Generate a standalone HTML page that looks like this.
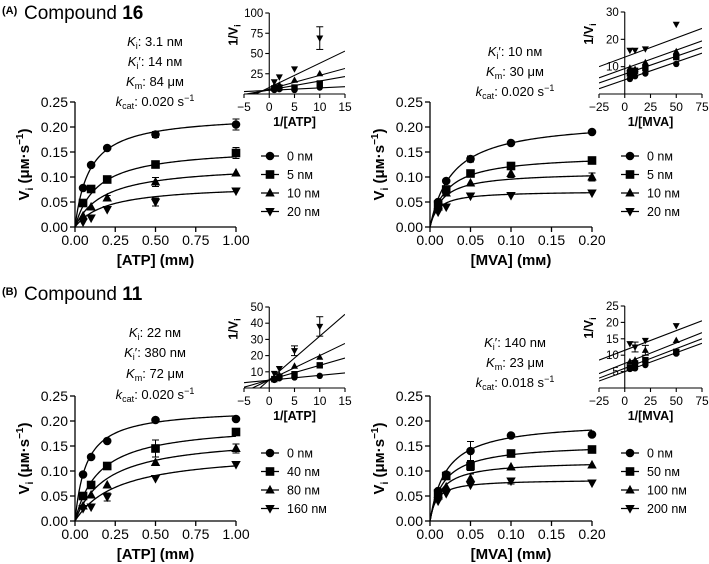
<!DOCTYPE html>
<html><head><meta charset="utf-8">
<style>
html,body{margin:0;padding:0;background:#fff;}
svg{display:block;font-family:"Liberation Sans",Arial,sans-serif;}
</style></head>
<body>
<svg id="fig" width="709" height="564" viewBox="0 0 709 564" xmlns="http://www.w3.org/2000/svg">
<g>
<text x="2" y="14" font-size="11" font-weight="bold">(A)</text>
<text x="24" y="19" font-size="19">Compound <tspan font-weight="bold">16</tspan></text>
</g>
<g>
<text x="2" y="295" font-size="11" font-weight="bold">(B)</text>
<text x="24" y="300" font-size="19">Compound <tspan font-weight="bold">11</tspan></text>
</g>
<g font-size="13" text-anchor="middle">
<text x="155" y="46"><tspan font-style="italic">K</tspan><tspan font-size="9" dy="3">i</tspan><tspan dy="-3">: 3.1 nм</tspan></text>
<text x="155" y="66"><tspan font-style="italic">K</tspan><tspan font-size="9" dy="3">i</tspan><tspan dy="-3">′: 14 nм</tspan></text>
<text x="155" y="86"><tspan font-style="italic">K</tspan><tspan font-size="9" dy="3">m</tspan><tspan dy="-3">: 84 μм</tspan></text>
<text x="155" y="106"><tspan font-style="italic">k</tspan><tspan font-size="9" dy="3">cat</tspan><tspan dy="-3">: 0.020 s</tspan><tspan font-size="9" dy="-5">−1</tspan></text>
</g>
<g font-size="13" text-anchor="middle">
<text x="515" y="56"><tspan font-style="italic">K</tspan><tspan font-size="9" dy="3">i</tspan><tspan dy="-3">′: 10 nм</tspan></text>
<text x="515" y="76"><tspan font-style="italic">K</tspan><tspan font-size="9" dy="3">m</tspan><tspan dy="-3">: 30 μм</tspan></text>
<text x="515" y="96"><tspan font-style="italic">k</tspan><tspan font-size="9" dy="3">cat</tspan><tspan dy="-3">: 0.020 s</tspan><tspan font-size="9" dy="-5">−1</tspan></text>
</g>
<g font-size="13" text-anchor="middle">
<text x="155" y="337"><tspan font-style="italic">K</tspan><tspan font-size="9" dy="3">i</tspan><tspan dy="-3">: 22 nм</tspan></text>
<text x="155" y="357"><tspan font-style="italic">K</tspan><tspan font-size="9" dy="3">i</tspan><tspan dy="-3">′: 380 nм</tspan></text>
<text x="155" y="378"><tspan font-style="italic">K</tspan><tspan font-size="9" dy="3">m</tspan><tspan dy="-3">: 72 μм</tspan></text>
<text x="155" y="399"><tspan font-style="italic">k</tspan><tspan font-size="9" dy="3">cat</tspan><tspan dy="-3">: 0.020 s</tspan><tspan font-size="9" dy="-5">−1</tspan></text>
</g>
<g font-size="13" text-anchor="middle">
<text x="515" y="347"><tspan font-style="italic">K</tspan><tspan font-size="9" dy="3">i</tspan><tspan dy="-3">′: 140 nм</tspan></text>
<text x="515" y="367"><tspan font-style="italic">K</tspan><tspan font-size="9" dy="3">m</tspan><tspan dy="-3">: 23 μм</tspan></text>
<text x="515" y="387"><tspan font-style="italic">k</tspan><tspan font-size="9" dy="3">cat</tspan><tspan dy="-3">: 0.018 s</tspan><tspan font-size="9" dy="-5">−1</tspan></text>
</g>
</svg>
<script>
// ---------- data ----------
const atpConc = [0.05, 0.1, 0.2, 0.5, 1.0];
const mvaConc = [0.01, 0.02, 0.05, 0.1, 0.2];
const mainYTicks = [0, 0.05, 0.1, 0.15, 0.2, 0.25];
const mainYLabels = ["0.00","0.05","0.10","0.15","0.20","0.25"];
const atpXTicks = [0, 0.25, 0.5, 0.75, 1.0];
const atpXLabels = ["0.00","0.25","0.50","0.75","1.00"];
const mvaXTicks = [0, 0.05, 0.1, 0.15, 0.2];
const mvaXLabels = ["0.00","0.05","0.10","0.15","0.20"];

const aAtpLegend = ["0 nм","5 nм","10 nм","20 nм"];
const aAtpV = [[0.078,0.124,0.158,0.185,0.205],[0.048,0.076,0.095,0.125,0.148],[0.022,0.040,0.058,0.090,0.108],[0.010,0.018,0.035,0.050,0.072]];
const aAtpErr = [[0,0,0,0.006,0.011],[0,0,0,0,0.011],[0,0,0.005,0.009,0],[0,0,0,0.008,0]];
const aAtpVmax = [0.225,0.160,0.125,0.085];
const aAtpKm = [0.09,0.14,0.18,0.2];

const aMvaLegend = ["0 nм","5 nм","10 nм","20 nм"];
const aMvaV = [[0.050,0.092,0.136,0.168,0.190],[0.045,0.075,0.107,0.122,0.133],[0.040,0.068,0.088,0.107,0.100],[0.030,0.040,0.062,0.063,0.068]];
const aMvaErr = [[0,0,0.006,0,0],[0,0,0,0,0],[0.006,0,0,0.008,0.008],[0,0,0,0,0]];
const aMvaVmax = [0.215,0.145,0.110,0.072];
const aMvaKm = [0.028,0.020,0.015,0.010];

const bAtpLegend = ["0 nм","40 nм","80 nм","160 nм"];
const bAtpV = [[0.093,0.128,0.160,0.202,0.204],[0.050,0.072,0.110,0.145,0.178],[0.030,0.052,0.072,0.117,0.145],[0.025,0.028,0.048,0.085,0.113]];
const bAtpErr = [[0,0,0,0,0],[0,0,0,0.017,0],[0,0,0,0,0.009],[0,0,0.008,0,0]];
const bAtpVmax = [0.225,0.195,0.170,0.140];
const bAtpKm = [0.07,0.15,0.2,0.27];

const bMvaLegend = ["0 nм","50 nм","100 nм","200 nм"];
const bMvaV = [[0.060,0.093,0.140,0.171,0.173],[0.055,0.090,0.110,0.135,0.143],[0.050,0.068,0.085,0.108,0.112],[0.040,0.055,0.072,0.080,0.076]];
const bMvaErr = [[0,0,0.019,0,0],[0,0,0.009,0,0],[0.008,0,0.009,0,0],[0,0,0,0.006,0]];
const bMvaVmax = [0.200,0.155,0.120,0.083];
const bMvaKm = [0.020,0.017,0.013,0.008];

// insets (double reciprocal)
const aAtpInvX = [1,2,5,10];
const aAtpInvY = [[5,6,5,8],[7,8,8,13],[10,11,17,25],[15,21,31,69]];
const aAtpInvErr = [[0,0,0,0],[0,0,0,0],[0,0,0,0],[0,0,0,14]];
const aAtpSlope = [0.3,1.1,1.7,3.0];
const aAtpInt = [4.5,5,6,8];
const aAtpInvYTicks = [25,50,75,100];
const atpInvXTicks = [-5,0,5,10,15];

const aMvaInvX = [5,10,20,50];
const aMvaInvY = [[5.5,6.5,7.5,11],[7.5,8.5,9.5,13.5],[9.5,9,11.5,15.5],[16,16,16.5,25.5]];
const aMvaInvErr = [[0,0,0,0],[0,0,0,0],[0,0,0,0],[0,0,0,0]];
const aMvaSlope = [0.13,0.13,0.135,0.14];
const aMvaInt = [5.2,7.3,9.3,13.5];
const aMvaInvYTicks = [10,20,30];
const mvaInvXTicks = [-25,0,25,50,75];

const bAtpInvX = [1,2,5,10];
const bAtpInvY = [[5,6,6.5,7.5],[5.5,7,8.5,14],[6.5,8,13.5,19],[9,12,23,38]];
const bAtpInvErr = [[0,0,0,0],[0,0,0,0],[0,0,0,0],[0,0,3,6]];
const bAtpSlope = [0.3,0.9,1.5,2.7];
const bAtpInt = [4.8,5,5,5];
const bAtpInvYTicks = [10,20,30,40,50];

const bMvaInvX = [5,10,20,50];
const bMvaInvY = [[5.8,6,7,10.5],[6.2,7.5,8.5,11],[8,8.5,11.5,14.5],[13.5,12.5,14.5,19]];
const bMvaInvErr = [[0,0,0,0],[0,0,0,0],[0,0,1.5,0],[0,1.5,0,0]];
const bMvaSlope = [0.115,0.12,0.125,0.12];
const bMvaInt = [5,6,7.5,11.5];
const bMvaInvYTicks = [5,10,15,20,25];

// ---------- drawing ----------
const NS = "http://www.w3.org/2000/svg";
const svg = document.getElementById("fig");
function el(tag, attrs, parent){
  const e = document.createElementNS(NS, tag);
  for (const k in attrs) e.setAttribute(k, attrs[k]);
  (parent||svg).appendChild(e);
  return e;
}
function marker(g, shape, x, y, r){
  let m;
  if (shape===0) m = el("circle",{cx:x,cy:y,r:r,fill:"#000"},g);
  else if (shape===1) m = el("rect",{x:x-r,y:y-r,width:2*r,height:2*r,fill:"#000"},g);
  else if (shape===2) m = el("polygon",{points:`${x},${y-r*1.2} ${x-r*1.1},${y+r*0.8} ${x+r*1.1},${y+r*0.8}`,fill:"#000"},g);
  else m = el("polygon",{points:`${x},${y+r*1.2} ${x-r*1.1},${y-r*0.8} ${x+r*1.1},${y-r*0.8}`,fill:"#000"},g);
  return m;
}
function errbar(g, x, y1, y2){
  el("line",{x1:x,y1:y1,x2:x,y2:y2,stroke:"#000","stroke-width":1},g);
  el("line",{x1:x-3.5,y1:y1,x2:x+3.5,y2:y1,stroke:"#000","stroke-width":1},g);
  el("line",{x1:x-3.5,y1:y2,x2:x+3.5,y2:y2,stroke:"#000","stroke-width":1},g);
}

function mainPanel(name, ax, conc, V, Err, Vmax, Km, xTicks, xLabels, xTitle, legend, legX, legY){
  const g = el("g",{});
  
  
  const sx = v => ax.px0 + (v-ax.xmin)/(ax.xmax-ax.xmin)*(ax.px1-ax.px0);
  const sy = v => ax.py0 - (v-0)/(0.25)*(ax.py0-ax.py1);
  const axg = el("g",{},g);
  
  
  el("line",{x1:ax.px0,y1:ax.py1,x2:ax.px0,y2:ax.py0,stroke:"#000","stroke-width":1.3},axg);
  mainYTicks.forEach((t,i)=>{
    const y = sy(t);
    el("line",{x1:ax.px0-5,y1:y,x2:ax.px0,y2:y,stroke:"#000","stroke-width":1.3},axg);
    const tx = el("text",{x:ax.px0-7,y:y+5,"font-size":14,"text-anchor":"end"},axg);
    tx.textContent = mainYLabels[i];
  });
  const xg = el("g",{},g);
  
  
  el("line",{x1:ax.px0,y1:ax.py0,x2:ax.px1,y2:ax.py0,stroke:"#000","stroke-width":1.3},xg);
  xTicks.forEach((t,i)=>{
    const x = sx(t);
    el("line",{x1:x,y1:ax.py0,x2:x,y2:ax.py0+5,stroke:"#000","stroke-width":1.3},xg);
    const tx = el("text",{x:x,y:ax.py0+18,"font-size":14,"text-anchor":"middle"},xg);
    tx.textContent = xLabels[i];
  });
  const xt = el("text",{x:(ax.px0+ax.px1)/2,y:ax.py0+38,"font-size":15,"font-weight":"bold","text-anchor":"middle"},g);
  
  
  xt.textContent = xTitle;
  const cy = (ax.py0+ax.py1)/2;
  const yt = el("text",{x:0,y:0,"font-size":15,"font-weight":"bold","text-anchor":"middle",transform:`translate(${ax.px0-46},${cy}) rotate(-90)`},g);
  
  
  yt.innerHTML = 'V<tspan font-size="10" dy="4">i</tspan><tspan dy="-4"> (μм·s</tspan><tspan font-size="10" dy="-6">−1</tspan><tspan dy="6">)</tspan>';
  V.forEach((row,s)=>{
    const sg = el("g",{},g);
    
    
    let d = "";
    for (let k=0;k<=120;k++){
      const x = ax.xmin + (ax.xmax-ax.xmin)*k/120;
      const v = Vmax[s]*x/(Km[s]+x);
      d += (k?"L":"M")+sx(x).toFixed(2)+","+sy(v).toFixed(2);
    }
    const p = el("path",{d:d,fill:"none",stroke:"#000","stroke-width":1.3},sg);
    
    
    row.forEach((v,i)=>{
      const e = Err[s][i];
      if (e>0) errbar(sg, sx(conc[i]), sy(v+e), sy(v-e));
      const m = marker(sg, s, sx(conc[i]), sy(v), 4.3);
      
      
    });
  });
  legend.forEach((lab,s)=>{
    const lg = el("g",{},g);
    
    
    const y = legY + s*18.5;
    el("line",{x1:legX-9,y1:y,x2:legX+9,y2:y,stroke:"#000","stroke-width":1.3},lg);
    marker(lg, s, legX, y, 4.3);
    const t = el("text",{x:legX+17,y:y+4.5,"font-size":12.5},lg);
    t.textContent = lab;
  });
}

let clipId = 0;
function inset(name, ax, invX, invY, invErr, slope, intercept, yTicks, xTicks, xTitle){
  const g = el("g",{});
  
  
  const sx = v => ax.px0 + (v-ax.xmin)/(ax.xmax-ax.xmin)*(ax.px1-ax.px0);
  const sy = v => ax.py0 - (v-ax.ymin)/(ax.ymax-ax.ymin)*(ax.py0-ax.py1);
  const x0 = sx(0);
  el("line",{x1:x0,y1:ax.py1,x2:x0,y2:ax.py0,stroke:"#000","stroke-width":1.1},g);
  yTicks.forEach(t=>{
    const y = sy(t);
    el("line",{x1:x0-4,y1:y,x2:x0,y2:y,stroke:"#000","stroke-width":1.1},g);
    const tx = el("text",{x:x0-6,y:y+4,"font-size":11.5,"text-anchor":"end"},g);
    tx.textContent = t;
  });
  el("line",{x1:ax.px0,y1:ax.py0,x2:ax.px1,y2:ax.py0,stroke:"#000","stroke-width":1.1},g);
  xTicks.forEach(t=>{
    const x = sx(t);
    el("line",{x1:x,y1:ax.py0,x2:x,y2:ax.py0+4,stroke:"#000","stroke-width":1.1},g);
    const tx = el("text",{x:x,y:ax.py0+17,"font-size":12,"text-anchor":"middle"},g);
    tx.textContent = (t<0?"−"+(-t):t);
  });
  const xt = el("text",{x:(ax.px0+ax.px1)/2,y:ax.py0+32,"font-size":12.5,"font-weight":"bold","text-anchor":"middle"},g);
  
  
  xt.textContent = xTitle;
  const yt = el("text",{x:0,y:0,"font-size":12.5,"font-weight":"bold","text-anchor":"middle",transform:`translate(${x0-32},${ax.py1+22}) rotate(-90)`},g);
  
  
  yt.innerHTML = '1/V<tspan font-size="9" dy="3">i</tspan>';
  const cid = "clip"+(clipId++);
  const cp = el("clipPath",{id:cid},g);
  el("rect",{x:ax.px0,y:ax.py1-10,width:ax.px1-ax.px0,height:ax.py0-ax.py1+10},cp);
  invY.forEach((row,s)=>{
    const sg = el("g",{},g);
    
    
    const l = el("line",{x1:sx(ax.xmin),y1:sy(intercept[s]+slope[s]*ax.xmin),x2:sx(ax.xmax),y2:sy(intercept[s]+slope[s]*ax.xmax),stroke:"#000","stroke-width":1.1,"clip-path":`url(#${cid})`},sg);
    
    
    row.forEach((v,i)=>{
      const e = invErr[s][i];
      if (e>0) errbar(sg, sx(invX[i]), sy(v+e), sy(v-e));
      const m = marker(sg, s, sx(invX[i]), sy(v), 3.2);
      
      
    });
  });
}

mainPanel("chart-a-atp",{px0:75,px1:236,xmin:0,xmax:1,py0:227,py1:102},atpConc,aAtpV,aAtpErr,aAtpVmax,aAtpKm,atpXTicks,atpXLabels,"[ATP] (mм)",aAtpLegend,270,156);
mainPanel("chart-a-mva",{px0:430,px1:592,xmin:0,xmax:0.2,py0:227,py1:102},mvaConc,aMvaV,aMvaErr,aMvaVmax,aMvaKm,mvaXTicks,mvaXLabels,"[MVA] (mм)",aMvaLegend,630,156);
mainPanel("chart-b-atp",{px0:75,px1:236,xmin:0,xmax:1,py0:521,py1:396},atpConc,bAtpV,bAtpErr,bAtpVmax,bAtpKm,atpXTicks,atpXLabels,"[ATP] (mм)",bAtpLegend,270,453);
mainPanel("chart-b-mva",{px0:430,px1:592,xmin:0,xmax:0.2,py0:521,py1:396},mvaConc,bMvaV,bMvaErr,bMvaVmax,bMvaKm,mvaXTicks,mvaXLabels,"[MVA] (mм)",bMvaLegend,630,453);

inset("inset-a-atp",{px0:244,px1:345,xmin:-5,xmax:15,py0:94,py1:13,ymin:0,ymax:100},aAtpInvX,aAtpInvY,aAtpInvErr,aAtpSlope,aAtpInt,aAtpInvYTicks,atpInvXTicks,"1/[ATP]");
inset("inset-a-mva",{px0:599,px1:702,xmin:-25,xmax:75,py0:94,py1:12,ymin:0,ymax:30},aMvaInvX,aMvaInvY,aMvaInvErr,aMvaSlope,aMvaInt,aMvaInvYTicks,mvaInvXTicks,"1/[MVA]");
inset("inset-b-atp",{px0:244,px1:345,xmin:-5,xmax:15,py0:388,py1:307,ymin:0,ymax:50},bAtpInvX,bAtpInvY,bAtpInvErr,bAtpSlope,bAtpInt,bAtpInvYTicks,atpInvXTicks,"1/[ATP]");
inset("inset-b-mva",{px0:599,px1:702,xmin:-25,xmax:75,py0:388,py1:306,ymin:0,ymax:25},bMvaInvX,bMvaInvY,bMvaInvErr,bMvaSlope,bMvaInt,bMvaInvYTicks,mvaInvXTicks,"1/[MVA]");
</script>
</body></html>
